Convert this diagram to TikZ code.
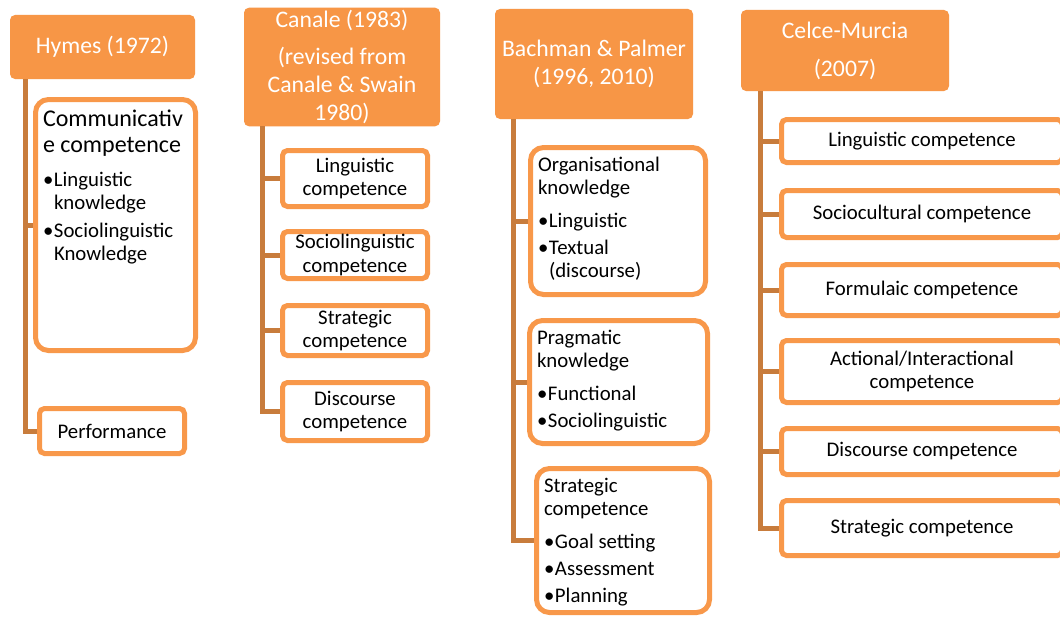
\documentclass[tikz,border=0pt]{standalone}
\usepackage{fontspec}
\setmainfont{Carlito}
\definecolor{hdrorange}{RGB}{247,150,70}
\definecolor{boxorange}{RGB}{248,152,74}
\definecolor{linkbrown}{RGB}{200,124,60}

% node placed by its outer corners (x1,y1)-(x2,y2); the 5pt border sits inside them
\newcommand\place[7]{%
  \node[#6, minimum width={#4-#2-5}, minimum height={#5-#3-5}]
    (#1) at ({(#2+#4)/2},{(#3+#5)/2}) {#7};}
% top-aligned text block for the boxes with bullet lists
\newcommand\listtext[5]{%
  \parbox[c][\dimexpr#4pt-#2pt-5pt\relax][t]{\dimexpr#3pt-#1pt-20pt\relax}{\raggedright #5}}
\newcommand\bul{\makebox[11pt][l]{\textbullet}}
\newcommand\hang{\hspace*{11pt}}

\tikzset{
  hdr/.style={draw=hdrorange, fill=hdrorange, line width=5pt, rounded corners=3pt,
    inner sep=0pt, text=white, align=center, font=\fontsize{23.7}{28}\selectfont},
  leaf/.style={draw=boxorange, fill=white, line width=5pt, rounded corners=5pt,
    inner sep=0pt, align=center, font=\fontsize{20.8}{23.5}\selectfont},
  card/.style={leaf, rounded corners=13pt, align=left, font=\fontsize{20.8}{23}\selectfont},
  link/.style={draw=linkbrown, line width=5pt},
}

\begin{document}
\begin{tikzpicture}[x=1pt,y=-1pt]
\useasboundingbox (0,0) rectangle (1060,618);
\fill[white] (0,0) rectangle (1060,618);
\clip (0,0) rectangle (1060,618);

% spine positions of the four trees
\coordinate (hymesV) at (25.5,0);
\coordinate (canaleV) at (262.5,0);
\coordinate (bachV) at (513,0);
\coordinate (celceV) at (760,0);

% Hymes
\place{hymes}{10}{15}{195}{79}{hdr}{Hymes (1972)}
\place{comm}{33}{97}{198}{353}{card}{\listtext{33}{97}{198}{353}{%
  {\fontsize{24}{26.7}\selectfont\rule{0pt}{26.5pt}Communicativ\\e competence\par}
  \vspace{11pt}
  \bul Linguistic\\
  \hang knowledge\\[5pt]
  \bul Sociolinguistic\\
  \hang Knowledge}}
\place{perf}{37}{406}{187}{456}{leaf}{Performance}

% Canale
\place{canale}{244}{10}{440}{124}{hdr}{Canale (1983)\\[9pt](revised from\\Canale \& Swain\\1980)}
\place{cling}{280}{148}{430}{209}{leaf}{Linguistic\\competence}
\place{csoc}{280}{229}{430}{281}{leaf}{Sociolinguistic\\competence}
\place{cstrat}{280}{303}{430}{358}{leaf}{Strategic\\competence}
\place{cdisc}{280}{380}{430}{443}{leaf}{Discourse\\competence}

% Bachman & Palmer
\place{bach}{495}{9}{693}{119}{hdr}{Bachman \& Palmer\\(1996, 2010)}
\place{borg}{528}{145}{708}{297}{card}{\listtext{528}{145}{708}{297}{%
  \rule{0pt}{23.5pt}Organisational\\
  knowledge\\[10pt]
  \bul Linguistic\\[4pt]
  \bul Textual\\
  \hang (discourse)}}
\place{bprag}{527}{318}{710}{446}{card}{\listtext{527}{318}{710}{446}{%
  \rule{0pt}{23.5pt}Pragmatic\\
  knowledge\\[10pt]
  \bul Functional\\[4pt]
  \bul Sociolinguistic}}
\place{bstrat}{534}{466}{712}{615}{card}{\listtext{534}{466}{712}{615}{%
  \rule{0pt}{23.5pt}Strategic\\
  competence\\[10pt]
  \bul Goal setting\\[4pt]
  \bul Assessment\\[4pt]
  \bul Planning}}

% Celce-Murcia
\place{celce}{741}{10}{949}{91}{hdr}{Celce-Murcia\\[10pt](2007)}
\place{mling}{779}{117}{1065}{165}{leaf}{Linguistic competence}
\place{msoc}{779}{188}{1065}{240}{leaf}{Sociocultural competence}
\place{mform}{779}{262}{1065}{318}{leaf}{Formulaic competence}
\place{mact}{779}{338}{1065}{405}{leaf}{Actional/Interactional\\competence}
\place{mdisc}{779}{426}{1065}{477}{leaf}{Discourse competence}
\place{mstrat}{779}{498}{1065}{558}{leaf}{Strategic competence}

% connectors: spine from each header, elbow into every child
\foreach \c in {comm,perf}
  \draw[link] (hymes.south -| hymesV) |- (\c.west);
\foreach \c in {cling,csoc,cstrat,cdisc}
  \draw[link] (canale.south -| canaleV) |- (\c.west);
\foreach \c in {borg,bprag,bstrat}
  \draw[link] (bach.south -| bachV) |- (\c.west);
\foreach \c in {mling,msoc,mform,mact,mdisc,mstrat}
  \draw[link] (celce.south -| celceV) |- (\c.west);
\end{tikzpicture}
\end{document}
